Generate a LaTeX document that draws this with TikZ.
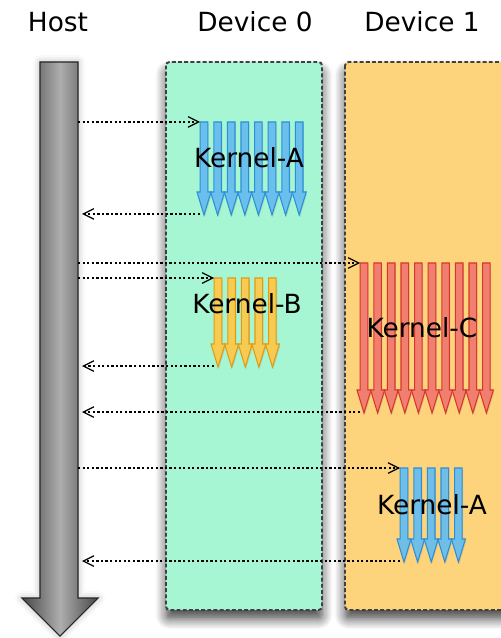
\documentclass[tikz,border=0pt]{standalone}
\usepackage{fontspec}
\setmainfont{DejaVu Sans}
\usetikzlibrary{shadows,shadows.blur,arrows.meta,positioning,calc}
\definecolor{mint}{HTML}{A6F5D3}
\definecolor{peach}{HTML}{FDD37B}
\definecolor{kblue}{HTML}{66BEF2}
\definecolor{kblueline}{HTML}{2C8ED6}
\definecolor{kyellow}{HTML}{FFCA48}
\definecolor{kyellowline}{HTML}{E39A12}
\definecolor{kred}{HTML}{F27A70}
\definecolor{kredline}{HTML}{D6362C}
\tikzstyle{device}=[draw=black!75, dash pattern=on 2.2pt off 1.3pt, line width=1.1pt,
  rounded corners=2pt, blur shadow={shadow blur steps=8, shadow xshift=0pt,
  shadow yshift=-5pt, shadow opacity=75, shadow blur radius=6pt}]
\tikzstyle{title}=[font=\fontsize{15}{18}\selectfont, inner sep=0pt]
\tikzstyle{klabel}=[font=\fontsize{15}{18}\selectfont, inner sep=0pt]
\tikzstyle{call}=[dash pattern=on 1.3pt off 1.3pt, line width=0.7pt,
  -{Straight Barb[length=6pt,width=6pt]}]
\tikzstyle{kern}=[line width=0.6pt, fill opacity=0.92,
  drop shadow={opacity=0.25, shadow xshift=0.5pt, shadow yshift=-1pt}]
\tikzstyle{hostbar}=[draw=black!85, line width=0.6pt, left color=black!72,
  right color=black!72, middle color=black!32,
  blur shadow={shadow xshift=0pt, shadow yshift=0pt, shadow opacity=30,
  shadow blur radius=4pt}]
% kernel: name, first centre x, top y, tip y, count, colour
\newcommand{\kernel}[6]{%
  \foreach \i in {1,...,#5} {
    \pgfmathsetmacro{\kx}{#2+(\i-1)*13.6}
    \path[kern, fill=#6, draw=#6line] (\kx-3.8,#3) -- (\kx+3.8,#3) -- (\kx+3.8,#4-23)
      -- (\kx+7,#4-23) -- (\kx,#4) -- (\kx-7,#4-23) -- (\kx-3.8,#4-23) -- cycle;
  }
  \coordinate (#1-in) at (#2-4,#3);
  \coordinate (#1-out) at (#2-4,#4-1);
}

\begin{document}
\begin{tikzpicture}[x=0.02cm, y=-0.02cm]
  \useasboundingbox (0,0) rectangle (500,638);

  % Draw the devices
  \path[device, fill=mint] (166,62) rectangle (322,610);
  \path[device, fill=peach] (345,62) rectangle (530,610);

  % Draw the host time line
  \path[hostbar] (40,62) -- (78,62) -- (78,598) -- (98,598) -- (60,636)
    -- (22,598) -- (40,598) -- cycle;
  \coordinate (host-out) at (78,62);
  \coordinate (host-in) at (82,62);

  % Draw the kernels
  \kernel{kA0}{204}{122}{215}{8}{kblue}
  \kernel{kB}{218}{278}{367}{5}{kyellow}
  \kernel{kC}{364}{263}{413}{10}{kred}
  \kernel{kA1}{404}{468}{562}{5}{kblue}

  % Titles and labels
  \node[title] (hostlbl) at (58,22) {Host};
  \node[title] (dev0lbl) at (255,22) {Device 0};
  \node[title] (dev1lbl) at (422,22) {Device 1};
  \node[klabel] (kA0lbl) at (249,158) {Kernel-A};
  \node[klabel] (kBlbl) at (247,304) {Kernel-B};
  \node[klabel] (kClbl) at (422,328) {Kernel-C};
  \node[klabel] (kA1lbl) at (432,505) {Kernel-A};

  % Draw arrows between host and kernels
  \draw[call] (host-out |- kA0-in) -- (kA0-in);
  \draw[call] (kA0-out) -- (host-in |- kA0-out);
  \draw[call] (host-out |- kC-in) -- (kC-in);
  \draw[call] (host-out |- kB-in) -- (kB-in);
  \draw[call] (kB-out) -- (host-in |- kB-out);
  \draw[call] (kC-out) -- (host-in |- kC-out);
  \draw[call] (host-out |- kA1-in) -- (kA1-in);
  \draw[call] (kA1-out) -- (host-in |- kA1-out);

\end{tikzpicture}
\end{document}
